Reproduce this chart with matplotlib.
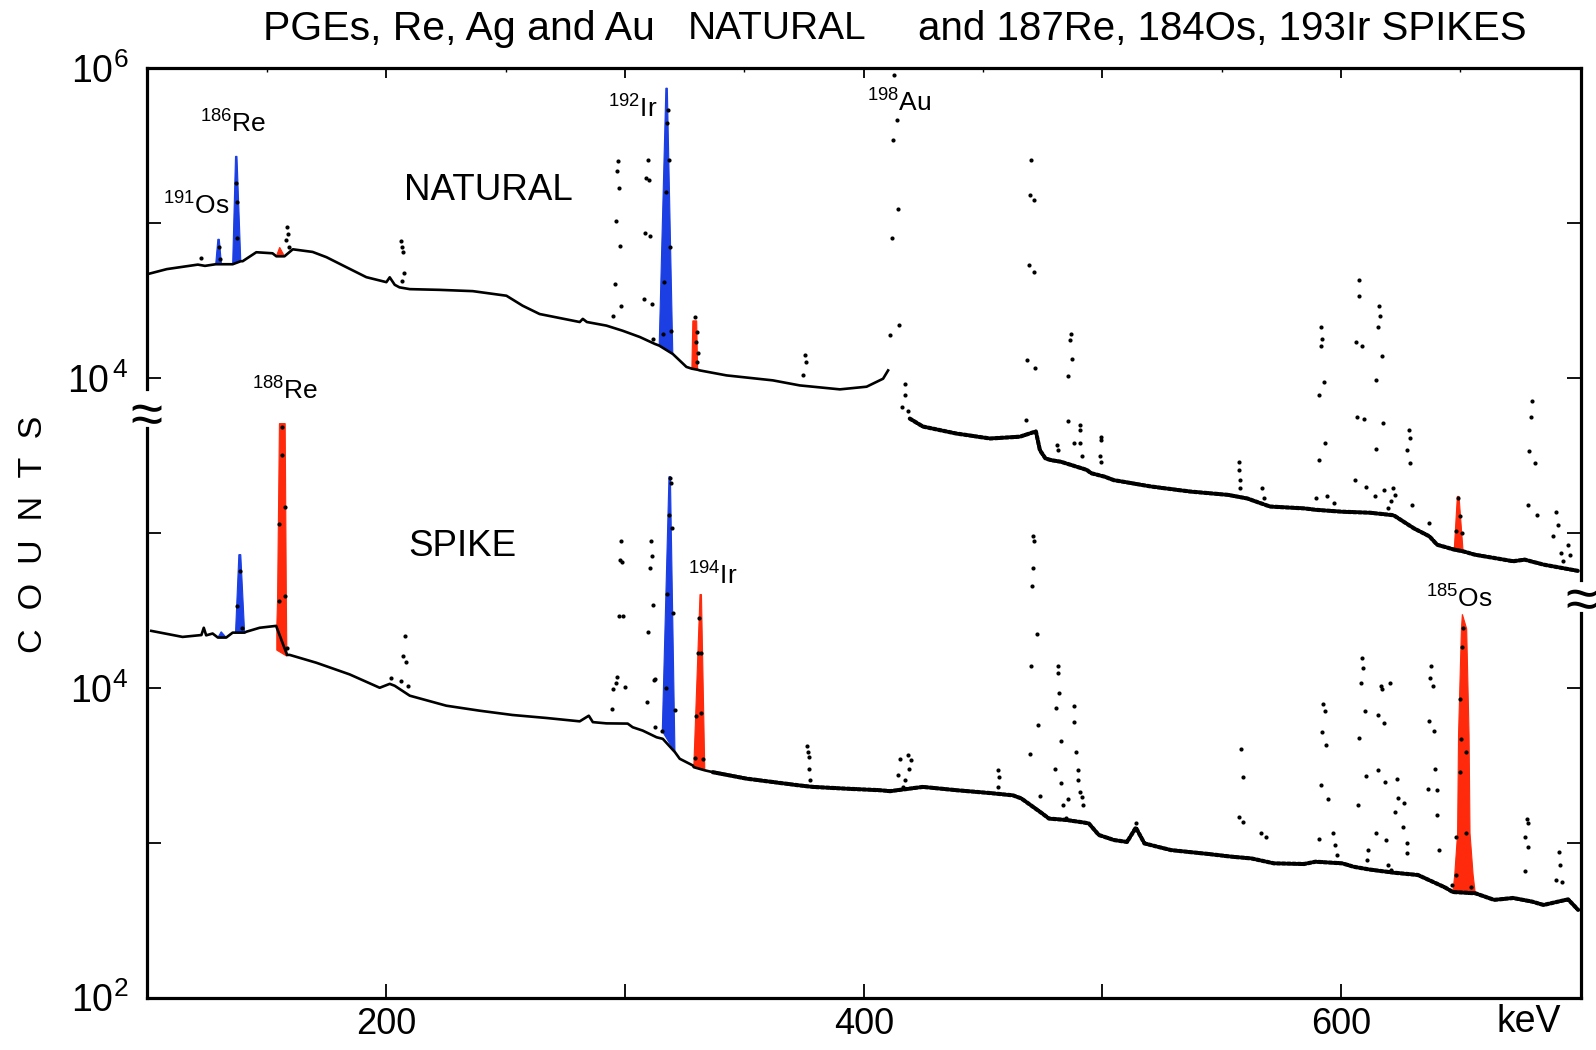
import numpy as np
import matplotlib
matplotlib.use("Agg")
import matplotlib.pyplot as plt
from matplotlib.ticker import FixedLocator, FixedFormatter, NullLocator

plt.rcParams["font.family"] = ["Liberation Sans", "DejaVu Sans"]
plt.rcParams["mathtext.fontset"] = "custom"
plt.rcParams["mathtext.rm"] = "Liberation Sans"
plt.rcParams["mathtext.it"] = "Liberation Sans:italic"
plt.rcParams["mathtext.bf"] = "Liberation Sans:bold"

nan = np.nan

# ---------------- NATURAL spectrum (counts) ----------------
nat_cont_keV = [100, 108, 121, 124, 128.5, 130.9, 135.6, 139.0, 139.8, 145.5, 152.3, 153.9,
                157.3, 160.8, 169.1, 174.9, 183.2, 191.6, 200.0, 201.4, 203.5, 205.5, 209.8,
                222.3, 236.2, 250.3, 257.1, 264.2, 281.0, 282.3, 284.0, 292.2, 299.0, 306.2,
                312.5, 314.3, 320.0, 325.7, 327.9, 330.5, 331.3, 342.5, 361.9, 373.2, 378.7,
                390.0, 401.2, 408.1, 410.2, 414.0, 419.3, 424.8, 438.9, 452.9, 465.4, 472.1,
                473.8, 476.1, 478.4, 482.6, 493.5, 495.2, 500.8, 504.8, 520.7, 536.7, 552.6,
                560.6, 570.2, 584.5, 589.3, 600.5, 612.0, 622.0, 630.5, 637.0, 640.2, 647.4,
                651.1, 656.1, 664.1, 672.0, 676.9, 684.8, 699.3]
nat_cont_counts = [46900, 50500, 54000, 53000, 54300, 54300, 54300, 56800, 56800, 64900, 63900,
                   61100, 61100, 67800, 65200, 60300, 52000, 44800, 41600, 44700, 40000, 38500,
                   37500, 37100, 36400, 34000, 29300, 25900, 23000, 24100, 23000, 21800, 20200,
                   18400, 16600, 16200, 14300, 11800, 11500, 11300, 11200, 10400, 9660, 8960,
                   8790, 8450, 8790, 9900, 11200, nan, 5470, 4860, 4380, 4070, 4180, 4520, 3420,
                   3030, 2950, 2880, 2550, 2430, 2310, 2190, 1990, 1850, 1760, 1670, 1480, 1440,
                   1410, 1370, 1350, 1300, 1070, 950, 839, 780, 760, 723, 689, 656, 672, 624, 568]

# individual channels standing out of the natural continuum (keV, counts)
nat_peak_dots = [
    (122.3, 59400),
    (158.2, 94000), (158.6, 85000), (158.1, 78000), (159.3, 70000),
    (206.3, 76400), (206.6, 70000), (206.9, 65000), (207.3, 48000), (206.6, 42500),
    (129.7, 69800), (130.1, 58600),
    (137.1, 182000), (137.5, 136000), (137.3, 80700),
    (297.1, 251000), (296.6, 216000), (297.5, 169000), (296.4, 103000), (297.8, 71300),
    (295.7, 40400), (298.5, 29300), (295.0, 25300),
    (309.6, 257000), (308.9, 196000), (310.1, 189000), (308.3, 86900), (310.4, 82700),
    (307.8, 32400), (311.1, 30100), (311.7, 17900),
    (318.0, 540000), (317.6, 442000), (318.4, 257000), (317.1, 160000), (319.0, 69800),
    (316.4, 42000), (319.3, 20200), (315.7, 19300),
    (329.2, 24600), (330.2, 19700), (329.9, 17100), (330.6, 14500), (330.2, 12600),
    (375.3, 14000), (376.0, 12700), (374.6, 10400),
    (412.6, 906000), (414.0, 465000), (412.1, 346000), (414.4, 123000), (411.7, 79800),
    (414.8, 22000), (411.0, 19100), (417.1, 9190), (417.4, 7810), (415.9, 6540), (418.7, 6100),
    (470.0, 257000), (469.8, 153000), (471.4, 142000), (469.2, 53800), (471.5, 48300),
    (468.3, 13000), (471.6, 11600), (467.9, 5340),
    (480.9, 3690), (481.2, 3420),
    (486.9, 19300), (486.5, 17600), (487.3, 13200), (485.7, 10350), (485.4, 5240), (488.1, 3780),
    (490.5, 4960), (490.7, 4600), (490.4, 3780), (491.3, 3120),
    (499.2, 4180), (499.5, 3970), (499.0, 3120), (499.6, 2880),
    (557.4, 2880), (557.2, 2550), (557.6, 2190), (557.6, 1940),
    (566.9, 1940), (567.7, 1670), (589.3, 1670),
    (591.6, 21500), (592.0, 17900), (591.4, 16100), (592.8, 9430), (590.8, 7810),
    (593.3, 3780), (590.6, 2950), (594.0, 1720), (597.2, 1560),
    (607.6, 43100), (607.6, 33800), (606.4, 17100), (608.9, 16100), (606.5, 5640),
    (609.6, 5470), (606.0, 2190), (610.3, 1990),
    (615.8, 29000), (616.3, 25200), (615.3, 21200), (617.0, 13900), (614.7, 9750),
    (617.6, 5100), (614.5, 3500), (618.0, 1900), (614.1, 1720),
    (621.9, 1940), (622.7, 1760), (621.1, 1600), (619.5, 1440),
    (628.3, 4600), (628.7, 4130), (627.8, 3420), (629.0, 2810), (629.5, 1520),
    (636.7, 1160),
    (649.0, 1670), (649.9, 1290), (648.3, 1030), (650.6, 1000),
    (680.0, 7150), (679.6, 5640), (678.8, 3360), (681.3, 2810), (678.4, 1520), (682.1, 1310),
    (689.9, 1370), (690.9, 1130), (688.8, 950), (692.0, 741),
    (695.2, 839), (692.8, 656), (696.0, 723),
]

# highlighted natural peaks: outline (keV, counts)
nat_os191_keV, nat_os191_counts = [128.5, 129.4, 130.0, 130.9], [54300, 78700, 78700, 54300]
nat_re186_keV, nat_re186_counts = [135.6, 136.8, 137.4, 139.0], [54300, 270000, 270000, 56800]
nat_re188_keV, nat_re188_counts = [153.9, 155.3, 157.3], [61100, 69800, 61100]
nat_ir192_keV, nat_ir192_counts = [314.3, 317.1, 317.7, 320.0], [16200, 744000, 744000, 14300]
nat_ir194_keV, nat_ir194_counts = [328.0, 328.4, 330.0, 330.4], [11500, 23400, 23400, 11300]
nat_os185_keV, nat_os185_counts = [647.4, 648.7, 649.4, 651.1], [780, 1720, 1720, 760]

# ---------------- SPIKE spectrum (counts) ----------------
spk_cont_keV = [101.5, 114.6, 122.5, 123.5, 124.5, 127.2, 129.4, 132.9, 135.6, 136.8, 140.6,
                141.3, 146.9, 153.8, 158.4, 159.5, 170.7, 184.6, 197.2, 201.4, 203.5, 209.8,
                225.1, 239.1, 252.9, 267.1, 281.0, 284.8, 286.5, 292.2, 301.1, 303.2, 307.4,
                313.2, 315.8, 320.9, 322.9, 328.4, 328.8, 333.4, 336.8, 350.9, 364.8, 373.2,
                378.7, 392.8, 406.8, 411.0, 424.8, 438.9, 452.9, 462.5, 466.0, 474.6, 477.6,
                485.0, 492.0, 494.3, 498.5, 504.8, 510.3, 514.0, 517.6, 528.7, 544.6, 554.3,
                562.3, 571.9, 584.5, 589.3, 600.5, 605.2, 612.0, 622.0, 632.2, 643.4, 646.8,
                656.2, 664.1, 672.0, 680.0, 684.8, 695.1, 699.3]
spk_cont_counts = [23300, 21300, 21900, 24400, 21800, 22400, 21100, 21100, 22700, 22700, 22700,
                   23000, 24400, 25100, 16300, 16300, 14500, 12200, 10000, 10600, 10300, 8890,
                   7660, 7110, 6670, 6380, 6070, 6600, 6000, 5890, 5870, 5560, 5290, 4790, 4680,
                   3840, 3480, 3150, 3070, 2930, 2850, 2590, 2430, 2340, 2290, 2230, 2180, 2150,
                   2290, 2180, 2090, 2020, 1930, 1550, 1430, 1400, 1350, 1330, 1120, 1040, 1010,
                   1250, 988, 895, 844, 811, 791, 735, 728, 753, 735, 699, 670, 640, 618, 515,
                   480, 471, 427, 439, 416, 396, 430, 368]

spk_peak_dots = [
    (202.0, 11600),
    (207.7, 21600), (207.0, 16100), (208.4, 14600), (206.3, 11100), (209.1, 10300),
    (138.5, 56500), (137.6, 33700), (139.6, 24400),
    (156.2, 484000), (156.2, 318000), (155.2, 114000), (155.2, 36300), (157.7, 146000),
    (157.7, 38900), (158.3, 18000),
    (298.1, 88100), (297.8, 67300), (298.9, 65000), (297.4, 29000), (299.2, 29000),
    (296.8, 11700), (296.1, 10800), (299.9, 10100), (294.7, 7290), (295.0, 9820),
    (310.8, 88100), (311.1, 71000), (310.4, 59400), (311.7, 34200), (309.6, 23000),
    (312.4, 11400), (312.0, 11200), (309.0, 8040), (312.4, 5610),
    (318.7, 225000), (319.4, 209000), (318.4, 131000), (319.7, 107000), (317.6, 40400),
    (320.1, 30500), (317.0, 9950), (320.8, 7190), (315.6, 5240),
    (331.0, 28300), (330.6, 16700), (332.0, 16700), (329.9, 6600), (332.0, 6900),
    (329.2, 3530), (332.7, 3480),
    (376.2, 4180), (376.6, 3840), (377.0, 3570), (377.0, 3000), (377.5, 2520),
    (415.2, 3480), (418.5, 3660), (420.0, 3400), (419.0, 3000), (414.4, 2720), (417.3, 2520),
    (416.5, 2290),
    (456.2, 2930), (456.6, 2650), (456.2, 2290),
    (470.9, 94900), (471.4, 88100), (470.9, 59400), (470.5, 45300), (472.5, 22400),
    (470.0, 13900), (472.9, 5780), (469.6, 3760), (473.8, 1990),
    (481.3, 13900), (481.3, 12500), (481.8, 9190), (480.5, 7430), (482.6, 4560),
    (480.1, 2970), (482.6, 2430), (483.4, 1740), (485.7, 1920), (484.9, 1440),
    (488.1, 7660), (488.1, 5980), (489.0, 3840), (489.8, 2930), (489.8, 2520), (490.6, 2120),
    (491.3, 1970), (491.8, 1740),
    (514.0, 1330), (513.4, 1200),
    (558.1, 4040), (558.9, 2650), (557.4, 1470), (558.9, 1360),
    (566.6, 1160), (568.5, 1090),
    (592.5, 7850), (593.3, 7110), (592.1, 5160), (593.8, 4240), (591.6, 2340), (594.4, 1920),
    (590.8, 1060), (596.5, 1150), (597.3, 964), (598.1, 832),
    (608.7, 15500), (609.2, 13500), (608.4, 10700), (610.0, 7040), (607.5, 4750),
    (610.3, 2680), (607.1, 1740), (611.3, 895), (610.8, 771),
    (616.7, 10300), (620.4, 10800), (617.1, 9820), (615.5, 6700), (618.0, 5890),
    (615.5, 2930), (618.3, 2460), (614.8, 1150), (618.7, 1040), (619.5, 717), (621.1, 665),
    (623.4, 2590), (623.8, 1950), (622.6, 1580), (626.2, 1790), (625.9, 1260), (627.8, 988),
    (627.8, 853),
    (637.8, 13900), (637.2, 11600), (638.5, 10300), (637.0, 6140), (638.9, 5240),
    (639.3, 3000), (636.2, 2230), (640.2, 2180), (640.2, 1500), (641.0, 895),
    (651.1, 24400), (650.6, 18200), (649.9, 8450), (650.2, 4680), (652.3, 3840),
    (649.9, 2850), (652.3, 1150), (648.3, 1090), (648.3, 618), (646.6, 532), (654.4, 520),
    (677.7, 1430), (678.1, 1330), (677.1, 1090), (678.4, 940), (676.9, 659),
    (691.2, 873), (691.5, 717), (689.9, 574), (692.5, 560),
]

spk_os191_keV, spk_os191_counts = [129.4, 130.8, 132.9], [21100, 23000, 21100]
spk_re186_keV, spk_re186_counts = [136.8, 138.2, 139.0, 140.6], [22700, 72400, 72400, 22700]
spk_re188_keV = [154.1, 154.1, 154.4, 155.2, 157.6, 158.1, 158.3]
spk_re188_counts = [17500, 25100, 36300, 508000, 508000, 36300, 16000]
spk_ir192_keV, spk_ir192_counts = [315.6, 318.4, 319.0, 320.9], [5240, 231000, 231000, 3840]
spk_ir194_keV, spk_ir194_counts = [328.8, 331.4, 332.0, 333.4], [3070, 40000, 40000, 2930]
spk_os185_keV = [646.8, 647.6, 648.8, 649.2, 650.4, 650.8, 652.6, 653.6, 654.0, 655.3, 656.2]
spk_os185_counts = [471, 620, 1150, 5000, 24000, 29800, 24000, 5000, 1150, 620, 471]

# axis ticks
x_major = [200, 300, 400, 500, 600]
x_major_labels = ["200", "", "400", "", "600"]
x_minor = [150, 250, 350, 450, 550, 650]

BLUE = "#1c3fe4"
RED = "#ff2a0c"

# ---------------- figure ----------------
W, H = 1596, 1050
fig = plt.figure(figsize=(W / 100, H / 100), dpi=100, facecolor="white")


def fx(px):
    return px / W


def fy(py):
    return 1 - py / H


x0, x1, y0, y1 = 146.5, 1581.0, 68.3, 997.5
rect = [fx(x0), fy(y1), (x1 - x0) / W, (y1 - y0) / H]
ax_spk = fig.add_axes(rect)
ax_nat = fig.add_axes(rect, sharex=ax_spk)
ax_nat.patch.set_visible(False)


def draw_spectrum(ax, cont_e, cont_c, dots, fills, noisy_from):
    for e, c, col in fills:
        ax.fill(e, c, color=col, lw=0.8, zorder=2)
    e = np.asarray(cont_e, dtype=float)
    c = np.asarray(cont_c, dtype=float)
    smooth = e <= noisy_from
    # low-energy continuum: channels merge into a solid trace
    ax.plot(e[smooth], c[smooth], color="k", lw=1.9, zorder=3, solid_joinstyle="round")
    # higher energies: channels scatter into a dotted band
    rough = e >= e[smooth][-1]
    ax.plot(e[rough], c[rough], color="k", lw=3.0, zorder=3,
            linestyle=(0, (0.7, 0.55)), dash_capstyle="round")
    d = np.array(dots, dtype=float)
    ax.plot(d[:, 0], d[:, 1], "o", ms=3.0, color="k", mec="none", zorder=4)


draw_spectrum(ax_nat, nat_cont_keV, nat_cont_counts, nat_peak_dots, [
    (nat_os191_keV, nat_os191_counts, BLUE),
    (nat_re186_keV, nat_re186_counts, BLUE),
    (nat_re188_keV, nat_re188_counts, RED),
    (nat_ir192_keV, nat_ir192_counts, BLUE),
    (nat_ir194_keV, nat_ir194_counts, RED),
    (nat_os185_keV, nat_os185_counts, RED),
], noisy_from=411)
draw_spectrum(ax_spk, spk_cont_keV, spk_cont_counts, spk_peak_dots, [
    (spk_os191_keV, spk_os191_counts, BLUE),
    (spk_re186_keV, spk_re186_counts, BLUE),
    (spk_re188_keV, spk_re188_counts, RED),
    (spk_ir192_keV, spk_ir192_counts, BLUE),
    (spk_ir194_keV, spk_ir194_counts, RED),
    (spk_os185_keV, spk_os185_counts, RED),
], noisy_from=345)

for a in (ax_spk, ax_nat):
    a.set_yscale("log")
ax_spk.set_xlim(99.5, 700.5)
ax_spk.set_ylim(1e2, 1e8)   # spike decades occupy the lower part
ax_nat.set_ylim(1e0, 1e6)   # natural decades occupy the upper part

# x axis
ax_spk.xaxis.set_major_locator(FixedLocator(x_major))
ax_spk.xaxis.set_major_formatter(FixedFormatter(x_major_labels))
ax_spk.xaxis.set_minor_locator(FixedLocator(x_minor))
ax_spk.tick_params(axis="x", which="major", direction="in", length=10, width=1.3,
                   bottom=True, top=False, labelsize=26, pad=7)
ax_spk.tick_params(axis="x", which="minor", bottom=False, top=False)
ax_nat.tick_params(axis="x", which="major", direction="in", length=7, width=1.3,
                   bottom=False, top=True, labelbottom=False, labeltop=False)
ax_nat.tick_params(axis="x", which="minor", direction="in", length=3, width=1.0,
                   bottom=False, top=True, labelbottom=False)

# y axes
ax_spk.yaxis.set_major_locator(FixedLocator(10.0 ** np.arange(2, 9)))
ax_spk.yaxis.set_major_formatter(FixedFormatter(["$10^2$", "", "$10^4$", "", "", "", ""]))
ax_spk.yaxis.set_minor_locator(NullLocator())
ax_spk.tick_params(axis="y", which="major", direction="in", length=10, width=1.3,
                   left=True, right=True, labelsize=27, pad=13)
ax_nat.yaxis.set_major_locator(FixedLocator([1e4, 1e6]))
ax_nat.yaxis.set_major_formatter(FixedFormatter([r"$10^{\,4}$", "$10^6$"]))
ax_nat.yaxis.set_minor_locator(NullLocator())
ax_nat.tick_params(axis="y", which="major", length=0, left=True, right=False,
                   labelsize=27, pad=13)

# frame with broken vertical sides
for a in (ax_spk, ax_nat):
    for s in a.spines.values():
        s.set_visible(False)
for side in ("top", "bottom"):
    ax_spk.spines[side].set_visible(True)
    ax_spk.spines[side].set_linewidth(2.3)
for xs, ys in [([0, 0], [0, 0.6125]), ([0, 0], [0.6545, 1]),
               ([1, 1], [0, 0.4138]), ([1, 1], [0.4493, 1])]:
    ax_spk.plot(xs, ys, transform=ax_spk.transAxes, color="k", lw=2.3,
                clip_on=False, solid_capstyle="projecting", zorder=5)
ax_spk.text(0, 0.624, "\u2248", transform=ax_spk.transAxes, ha="center", va="center",
            fontsize=42, zorder=6)
ax_spk.text(1, 0.4246, "\u2248", transform=ax_spk.transAxes, ha="center", va="center",
            fontsize=42, zorder=6)

# titles and labels
fig.text(fx(263), fy(29), "PGEs, Re, Ag and Au", ha="left", va="center", fontsize=29.5)
fig.text(fx(688), fy(29), "NATURAL", ha="left", va="center", fontsize=28)
fig.text(fx(1527), fy(29), "and 187Re, 184Os, 193Ir SPIKES", ha="right", va="center",
         fontsize=29)
fig.text(fx(34), fy(534), "C  O  U  N  T  S", rotation=90, ha="center", va="center",
         fontsize=24.5)
fig.text(fx(1529), fy(1022), "keV", ha="center", va="center", fontsize=27)
fig.text(fx(404), fy(190), "NATURAL", ha="left", va="center", fontsize=26.5)
fig.text(fx(408), fy(547), "SPIKE", ha="left", va="center", fontsize=26.5)

isotope_labels = [
    (r"$^{186}$Re", 200, 133), (r"$^{191}$Os", 163, 215), (r"$^{192}$Ir", 608, 118),
    (r"$^{198}$Au", 867, 112), (r"$^{188}$Re", 252, 400), (r"$^{194}$Ir", 688, 585),
    (r"$^{185}$Os", 1426, 608),
]
for txt, px, py in isotope_labels:
    fig.text(fx(px), fy(py), txt, ha="left", va="baseline", fontsize=19)

fig.savefig("out.png", dpi=100, facecolor="white")
